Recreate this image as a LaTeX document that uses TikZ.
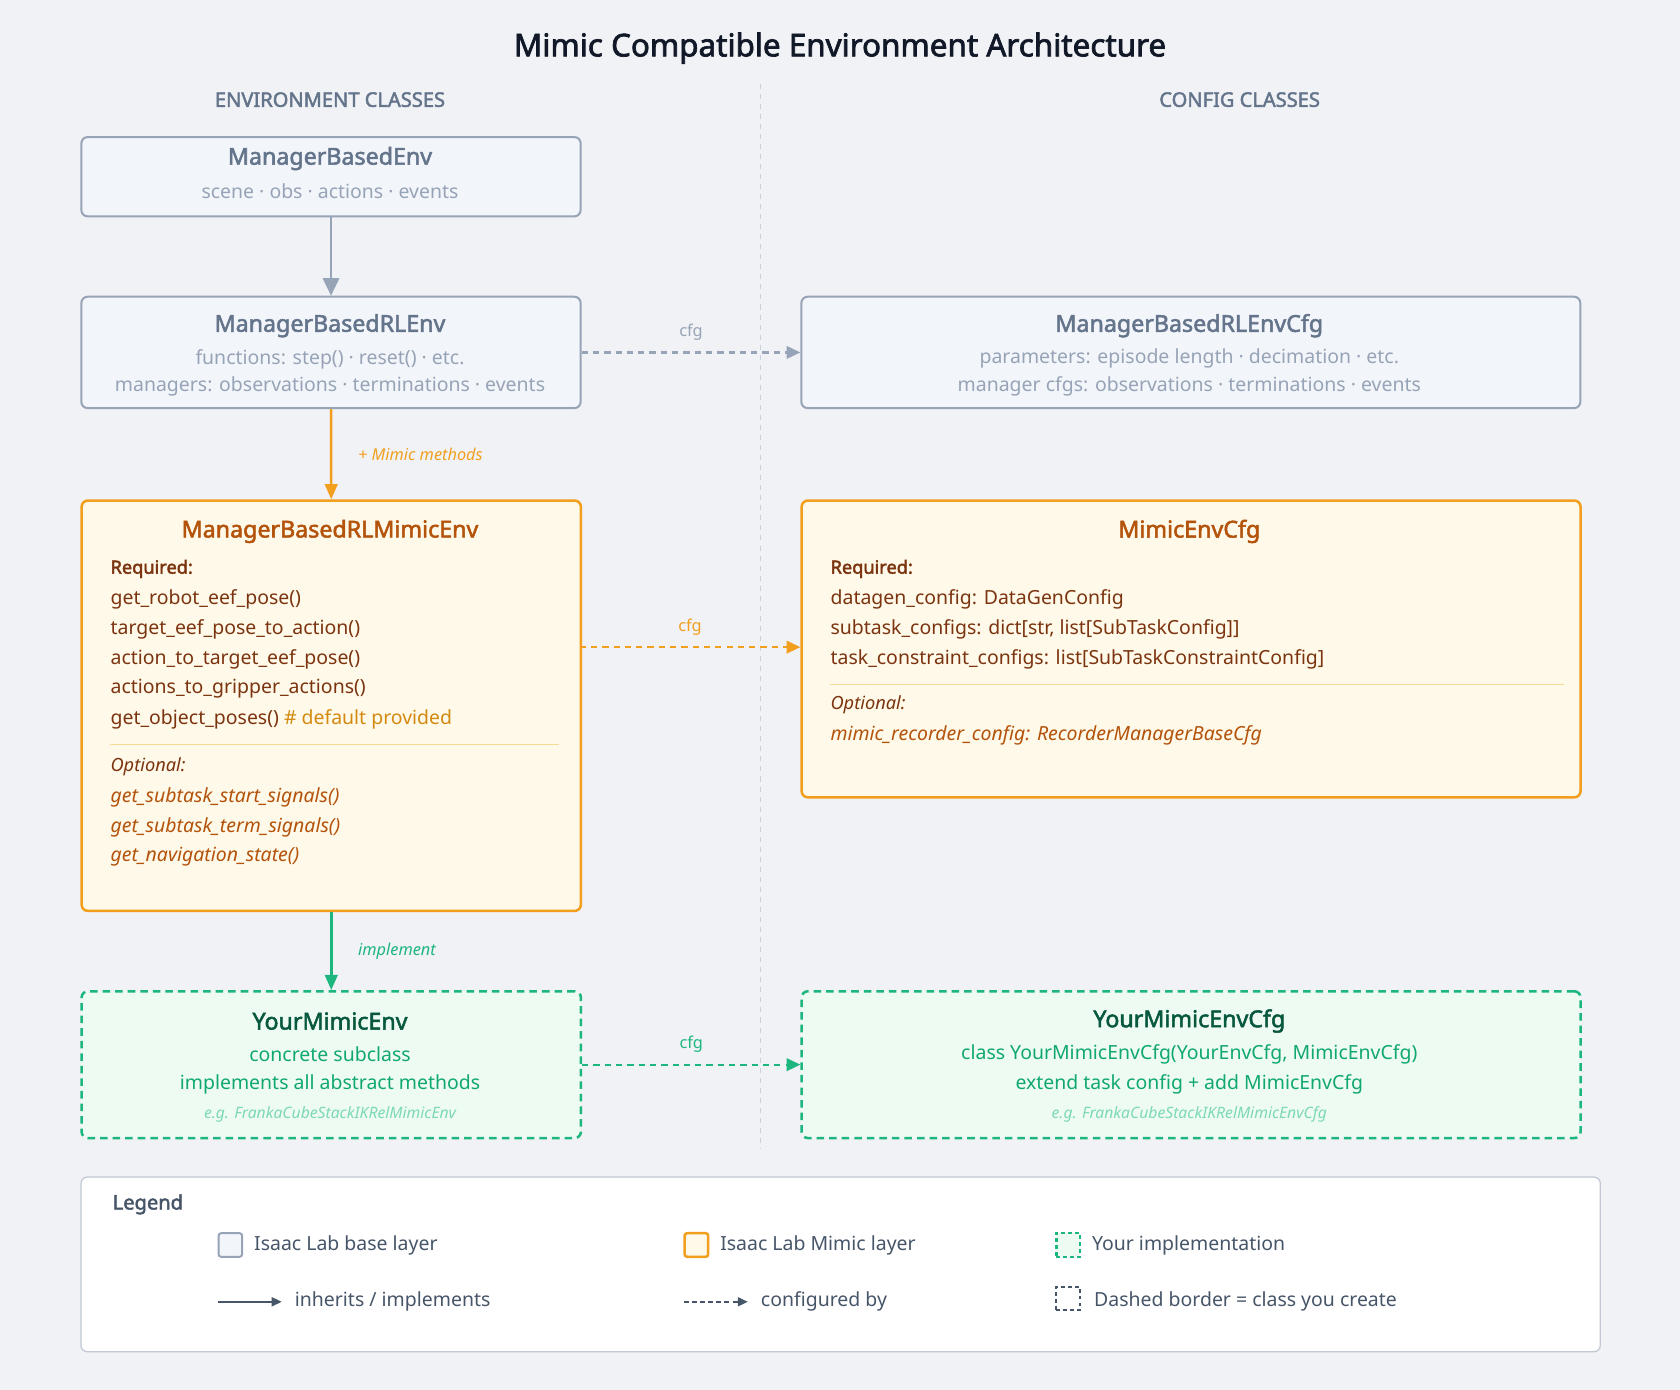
\documentclass[tikz,border=0pt]{standalone}
\usepackage{fontspec}
\setmainfont{Noto Sans}[AutoFakeBold=2.2]
\usetikzlibrary{arrows.meta,positioning}
\definecolor{bg}{HTML}{F0F2F6}
\definecolor{basedraw}{HTML}{97A3B6}
\definecolor{basefill}{HTML}{F2F5FA}
\definecolor{basetitle}{HTML}{64748B}
\definecolor{basetext}{HTML}{97A3B6}
\definecolor{mimline}{HTML}{F29F1E}
\definecolor{mimfill}{HTML}{FEF9E8}
\definecolor{mimtitle}{HTML}{B4530B}
\definecolor{mimtext}{HTML}{7C3410}
\definecolor{mimnote}{HTML}{D48A10}
\definecolor{mimsep}{HTML}{F5DC95}
\definecolor{yourline}{HTML}{1DB67E}
\definecolor{yourfill}{HTML}{EEFBF3}
\definecolor{yourtitle}{HTML}{07583E}
\definecolor{yourtext}{HTML}{10A870}
\definecolor{yournote}{HTML}{7CD9B4}
\definecolor{ink}{HTML}{111827}
\definecolor{legink}{HTML}{475569}
\newcommand{\fsz}[1]{\fontsize{#1}{#1}\selectfont}

\begin{document}
\begin{tikzpicture}[x=0.03cm, y=-0.03cm,
  every node/.style={inner sep=0pt},
  box/.style={rectangle, rounded corners=5pt, line width=1.6pt, anchor=north west},
  basebox/.style={box, draw=basedraw, fill=basefill},
  mimbox/.style={box, draw=mimline, fill=mimfill, line width=2pt},
  yourbox/.style={box, draw=yourline, fill=yourfill, line width=2pt, dash pattern=on 6pt off 4pt},
  btitle/.style={font=\fsz{18.5}\bfseries},
  btext/.style={font=\fsz{15.5}},
  bnote/.style={font=\fsz{12.5}\itshape},
  mline/.style={font=\fsz{15.5}, text=mimtext, anchor=west},
  cfglabel/.style={font=\fsz{13}},
  coltitle/.style={font=\fsz{16}\bfseries, text=basetitle},
]
\fill[bg] (0,0) rectangle (1568,1297);
\useasboundingbox (0,0) rectangle (1568,1297);

\node[font=\fsz{25}\bfseries, text=ink] (title) at (784,45) {Mimic Compatible Environment Architecture};
\node[coltitle] (envcol) at (308,93) {ENVIRONMENT CLASSES};
\node[coltitle] (cfgcol) at (1157,93) {CONFIG CLASSES};
\draw[basetext!50, dash pattern=on 4pt off 4pt, line width=0.6pt] (710,78) -- (710,1072);

% base layer
\node[basebox, minimum width=466*0.03cm, minimum height=74*0.03cm] (env) at (75,127) {};
\node[btitle, text=basetitle] (envt) at (308,148) {ManagerBasedEnv};
\node[btext, text=basetext] (envs) at (308,178) {scene · obs · actions · events};

\node[basebox, minimum width=466*0.03cm, minimum height=104*0.03cm] (rlenv) at (75,276) {};
\node[btitle, text=basetitle] (rlenvt) at (308,304) {ManagerBasedRLEnv};
\node[btext, text=basetext] (rlenv1) at (308,335) {functions: step() · reset() · etc.};
\node[btext, text=basetext] (rlenv2) at (308,361) {managers: observations · terminations · events};

\node[basebox, minimum width=727*0.03cm, minimum height=104*0.03cm] (rlcfg) at (747,276) {};
\node[btitle, text=basetitle] (rlcfgt) at (1110,304) {ManagerBasedRLEnvCfg};
\node[btext, text=basetext] (rlcfg1) at (1110,335) {parameters: episode length · decimation · etc.};
\node[btext, text=basetext] (rlcfg2) at (1110,361) {manager cfgs: observations · terminations · events};

% mimic layer
\node[mimbox, minimum width=466*0.03cm, minimum height=383*0.03cm] (mimenv) at (75,466) {};
\node[btitle, text=mimtitle] (mimenvt) at (308,496) {ManagerBasedRLMimicEnv};
\node[mline, font=\fsz{14.5}\bfseries] (mreq) at (103,531) {Required:};
\node[mline] (m1) at (103,559) {get\_robot\_eef\_pose()};
\node[mline] (m2) at (103,587) {target\_eef\_pose\_to\_action()};
\node[mline] (m3) at (103,615) {action\_to\_target\_eef\_pose()};
\node[mline] (m4) at (103,643) {actions\_to\_gripper\_actions()};
\node[mline] (m5) at (103,671) {get\_object\_poses() \textcolor{mimnote}{\# default provided}};
\draw[mimsep, line width=1pt] (103,695) -- (522,695);
\node[mline, font=\fsz{14.5}\bfseries\itshape] (mopt) at (103,716) {Optional:};
\node[mline, font=\fsz{15.5}\itshape, text=mimtitle] (o1) at (103,744) {get\_subtask\_start\_signals()};
\node[mline, font=\fsz{15.5}\itshape, text=mimtitle] (o2) at (103,772) {get\_subtask\_term\_signals()};
\node[mline, font=\fsz{15.5}\itshape, text=mimtitle] (o3) at (103,800) {get\_navigation\_state()};

\node[mimbox, minimum width=727*0.03cm, minimum height=277*0.03cm] (mimcfg) at (747,466) {};
\node[btitle, text=mimtitle] (mimcfgt) at (1110,496) {MimicEnvCfg};
\node[mline, font=\fsz{14.5}\bfseries] (creq) at (775,531) {Required:};
\node[mline] (c1) at (775,559) {datagen\_config: DataGenConfig};
\node[mline] (c2) at (775,587) {subtask\_configs: dict[str, list[SubTaskConfig]]};
\node[mline] (c3) at (775,615) {task\_constraint\_configs: list[SubTaskConstraintConfig]};
\draw[mimsep, line width=1pt] (775,639) -- (1460,639);
\node[mline, font=\fsz{14.5}\bfseries\itshape] (copt) at (775,658) {Optional:};
\node[mline, font=\fsz{15.5}\itshape, text=mimtitle] (co1) at (775,686) {mimic\_recorder\_config: RecorderManagerBaseCfg};

% your implementation
\node[yourbox, minimum width=466*0.03cm, minimum height=137*0.03cm] (yenv) at (75,924) {};
\node[btitle, text=yourtitle] (yenvt) at (308,953) {YourMimicEnv};
\node[btext, text=yourtext] (yenv1) at (308,984) {concrete subclass};
\node[btext, text=yourtext] (yenv2) at (308,1012) {implements all abstract methods};
\node[bnote, text=yournote] (yenv3) at (308,1040) {e.g. FrankaCubeStackIKRelMimicEnv};

\node[yourbox, minimum width=727*0.03cm, minimum height=137*0.03cm] (ycfg) at (747,924) {};
\node[btitle, text=yourtitle] (ycfgt) at (1110,953) {YourMimicEnvCfg};
\node[btext, text=yourtext] (ycfg1) at (1110,984) {class YourMimicEnvCfg(YourEnvCfg, MimicEnvCfg)};
\node[btext, text=yourtext] (ycfg2) at (1110,1012) {extend task config + add MimicEnvCfg};
\node[bnote, text=yournote] (ycfg3) at (1110,1040) {e.g. FrankaCubeStackIKRelMimicEnvCfg};

% connectors
\draw[basedraw, line width=2pt, -{Triangle[length=14pt,width=13pt]}] (env.south) -- (rlenv.north);
\draw[mimline, line width=2pt, -{Triangle[length=12pt,width=10pt]}] (rlenv.south) -- node[right=24*0.03cm, font=\fsz{13}\itshape, text=mimline] (mlbl) {+ Mimic methods} (mimenv.north);
\draw[yourline, line width=2pt, -{Triangle[length=12pt,width=10pt]}] (mimenv.south) -- node[right=24*0.03cm, font=\fsz{13}\itshape, text=yourline] (ilbl) {implement} (yenv.north);

\draw[basedraw, line width=1.8pt, dash pattern=on 5pt off 4pt, -{Triangle[length=11pt,width=10pt]}] (rlenv.east) -- node[above=10*0.03cm, cfglabel, text=basetext] (cfg1) {cfg} (rlcfg.west);
\draw[mimline, line width=1.8pt, dash pattern=on 5pt off 4pt, -{Triangle[length=11pt,width=10pt]}] (541,604) coordinate (ma) -- node[above=10*0.03cm, cfglabel, text=mimline] (cfg2) {cfg} (747,604) coordinate (mb);
\draw[yourline, line width=1.8pt, dash pattern=on 5pt off 4pt, -{Triangle[length=11pt,width=10pt]}] (yenv.east) -- node[above=10*0.03cm, cfglabel, text=yourline] (cfg3) {cfg} (ycfg.west);

% legend
\node[box, draw=basetext!60, fill=white, line width=1pt, minimum width=1418*0.03cm, minimum height=163*0.03cm] (legend) at (75,1098) {};
\node[font=\fsz{16}\bfseries, text=legink, anchor=west] (legt) at (105,1124) {Legend};
\node[draw=basedraw, fill=basefill, line width=1.6pt, rounded corners=2pt, minimum size=22*0.03cm] (lg1) at (215,1162) {};
\node[btext, text=legink, anchor=west] (lg1t) at (237,1162) {Isaac Lab base layer};
\node[draw=mimline, fill=mimfill, line width=2pt, rounded corners=2pt, minimum size=22*0.03cm] (lg2) at (650,1162) {};
\node[btext, text=legink, anchor=west] (lg2t) at (672,1162) {Isaac Lab Mimic layer};
\node[draw=yourline, fill=yourfill, line width=2pt, dash pattern=on 3pt off 2.5pt, minimum size=22*0.03cm] (lg3) at (997,1162) {};
\node[btext, text=legink, anchor=west] (lg3t) at (1019,1162) {Your implementation};
\coordinate (la1) at (203,1215); \coordinate (la2) at (263,1215);
\draw[legink, line width=1.8pt, -{Triangle[length=8pt,width=7pt]}] (la1) -- (la2);
\node[btext, text=legink, anchor=west] (lg4t) at (275,1215) {inherits / implements};
\coordinate (lb1) at (638,1215); \coordinate (lb2) at (698,1215);
\draw[legink, line width=1.8pt, dash pattern=on 4pt off 2.5pt, -{Triangle[length=8pt,width=7pt]}] (lb1) -- (lb2);
\node[btext, text=legink, anchor=west] (lg5t) at (710,1215) {configured by};
\node[draw=legink, line width=1.6pt, dash pattern=on 3pt off 2.5pt, minimum size=22*0.03cm] (lg6) at (997,1212) {};
\node[btext, text=legink, anchor=west] (lg6t) at (1021,1215) {Dashed border = class you create};
\end{tikzpicture}
\end{document}
